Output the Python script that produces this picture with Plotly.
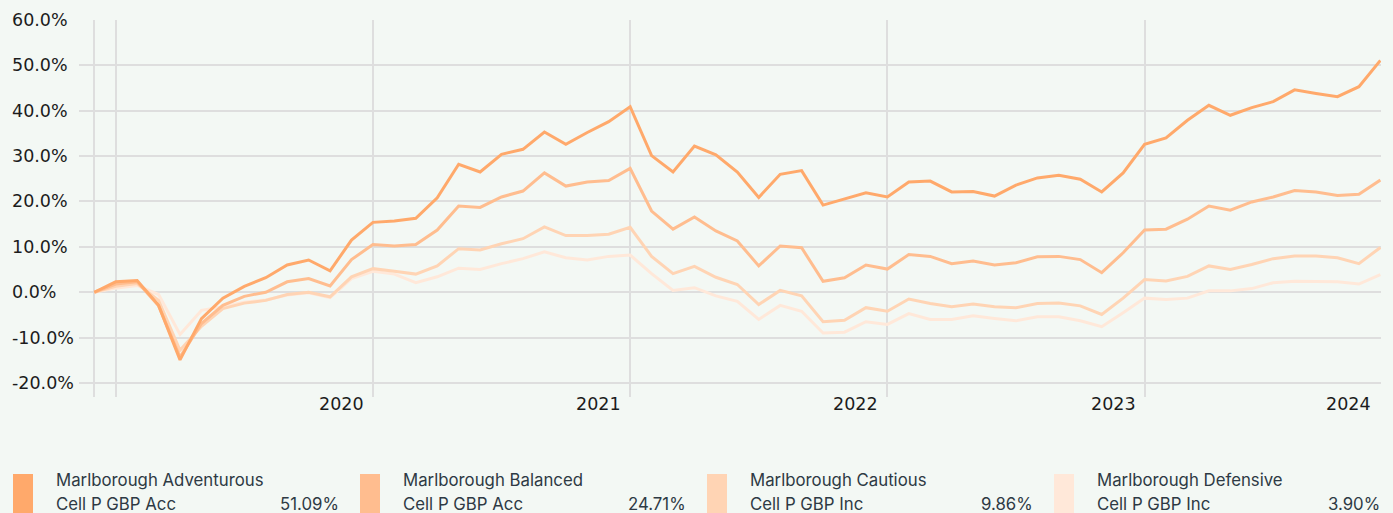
import plotly.graph_objects as go

# ---------------- data ----------------
fund_names = ["Marlborough Adventurous", "Marlborough Balanced",
              "Marlborough Cautious", "Marlborough Defensive"]
share_classes = ["Cell P GBP Acc", "Cell P GBP Acc", "Cell P GBP Inc", "Cell P GBP Inc"]
total_returns = ["51.09%", "24.71%", "9.86%", "3.90%"]

adventurous = [0.0, 2.3, 2.6, -2.9, -14.9, -5.8, -1.3, 1.3, 3.2, 6.0,
               7.1, 4.7, 11.5, 15.4, 15.7, 16.3, 20.8, 28.2, 26.5, 30.4,
               31.5, 35.3, 32.6, 35.2, 37.6, 40.9, 30.1, 26.5, 32.2, 30.3,
               26.5, 20.9, 26.0, 26.8, 19.2, 20.5, 21.9, 21.0, 24.3, 24.5,
               22.1, 22.2, 21.2, 23.6, 25.2, 25.8, 24.9, 22.1, 26.3, 32.6,
               34.0, 37.9, 41.2, 39.0, 40.7, 42.0, 44.6, 43.8, 43.1, 45.3,
               51.09]
balanced = [0.0, 1.8, 2.3, -3.0, -14.3, -6.9, -2.9, -0.9, 0.0, 2.3,
            3.0, 1.4, 7.2, 10.5, 10.2, 10.5, 13.7, 19.0, 18.7, 21.0,
            22.3, 26.3, 23.4, 24.3, 24.6, 27.3, 17.9, 13.9, 16.6, 13.5,
            11.3, 5.8, 10.2, 9.8, 2.4, 3.2, 6.0, 5.1, 8.3, 7.9,
            6.3, 6.9, 6.0, 6.5, 7.8, 7.9, 7.2, 4.3, 8.7, 13.7,
            13.9, 16.1, 19.0, 18.1, 19.9, 21.0, 22.4, 22.1, 21.3, 21.6,
            24.71]
cautious = [0.0, 1.3, 1.9, -1.8, -12.8, -7.5, -3.6, -2.4, -1.8, -0.5,
            0.0, -1.0, 3.4, 5.2, 4.6, 4.0, 5.8, 9.6, 9.3, 10.7,
            11.8, 14.4, 12.5, 12.5, 12.8, 14.3, 7.9, 4.1, 5.7, 3.3,
            1.7, -2.7, 0.4, -0.8, -6.5, -6.2, -3.4, -4.2, -1.5, -2.5,
            -3.2, -2.6, -3.2, -3.4, -2.5, -2.4, -3.0, -4.9, -1.3, 2.8,
            2.5, 3.5, 5.8, 5.0, 6.1, 7.4, 8.0, 8.0, 7.6, 6.3,
            9.86]
defensive = [0.0, 0.9, 1.5, -0.5, -9.3, -4.0, -3.2, -2.2, -1.7, -0.6,
             -0.1, -1.2, 3.0, 4.6, 4.0, 2.1, 3.4, 5.3, 5.0, 6.3,
             7.4, 8.9, 7.6, 7.1, 7.9, 8.2, 4.1, 0.4, 1.0, -0.8,
             -2.0, -6.0, -2.9, -4.2, -9.0, -8.8, -6.5, -7.1, -4.7, -6.0,
             -6.0, -5.2, -5.8, -6.3, -5.4, -5.4, -6.3, -7.6, -4.5, -1.3,
             -1.6, -1.3, 0.3, 0.3, 0.8, 2.1, 2.4, 2.4, 2.3, 1.8,
             3.90]

month_index = list(range(len(adventurous)))
x_tick_vals = [0, 1, 13, 25, 37, 49, 60]
x_tick_text = ["", "", "2020", "2021", "2022", "2023", "2024"]
y_tick_vals = [60, 50, 40, 30, 20, 10, 0, -10, -20]
y_tick_text = ["60.0%", "50.0%", "40.0%", "30.0%", "20.0%", "10.0%", "0.0%", "-10.0%", "-20.0%"]

series = [adventurous, balanced, cautious, defensive]
colors = ["#FFA96B", "#FFBD8F", "#FFD4B4", "#FFE8D9"]

# ---------------- layout geometry ----------------
W, H = 1393, 513
ML, MR, MT, MB = 79, 12, 20, 116
PW, PH = W - ML - MR, H - MT - MB
BG = "#F3F8F4"
GRID = "#DEDEDE"


def px_x(p):
    return (p - ML) / PW


def px_y(p):
    return (MT + PH - p) / PH


fig = go.Figure()
for vals, name, col in reversed(list(zip(series, fund_names, colors))):
    fig.add_trace(go.Scatter(
        x=month_index, y=vals, mode="lines", name=name,
        line=dict(color=col, width=3), showlegend=False,
        hovertemplate="%{y:.2f}%<extra>" + name + "</extra>"))

annotations = []
tick_font = dict(family="DejaVu Sans", size=17.5, color="#1c1c1c")
for v, t in zip(y_tick_vals, y_tick_text):
    annotations.append(dict(x=px_x(10), xref="paper", y=v, yref="y", text=t,
                            showarrow=False, xanchor="left", yanchor="middle",
                            font=tick_font))
for v, t in zip(x_tick_vals, x_tick_text):
    if t:
        annotations.append(dict(x=v, xref="x", y=px_y(404), yref="paper", text=t,
                                showarrow=False, xanchor="right", yanchor="middle",
                                xshift=-7, font=tick_font))

shapes = []
legend_font = dict(family="Inter", size=16.8, color="#2E3A44")
col_w = 347
for i, (name, sc, ret, col) in enumerate(zip(fund_names, share_classes, total_returns, colors)):
    x0 = 13 + i * col_w
    shapes.append(dict(type="rect", xref="paper", yref="paper",
                       x0=px_x(x0), x1=px_x(x0 + 20), y0=px_y(474), y1=px_y(530),
                       fillcolor=col, line=dict(width=0), layer="above"))
    annotations.append(dict(x=px_x(x0 + 41), xref="paper", y=px_y(480), yref="paper",
                            text=name, showarrow=False, xanchor="left", yanchor="middle",
                            font=legend_font))
    annotations.append(dict(x=px_x(x0 + 41), xref="paper", y=px_y(504), yref="paper",
                            text=sc, showarrow=False, xanchor="left", yanchor="middle",
                            font=legend_font))
    annotations.append(dict(x=px_x(x0 + 328), xref="paper", y=px_y(504), yref="paper",
                            text=ret, showarrow=False, xanchor="right", yanchor="middle",
                            font=legend_font))

fig.update_layout(
    width=W, height=H,
    margin=dict(l=ML, r=MR, t=MT, b=MB, pad=0),
    paper_bgcolor=BG, plot_bgcolor=BG,
    showlegend=False,
    annotations=annotations,
    shapes=shapes,
    xaxis=dict(range=[-0.713, 60.03], tickmode="array", tickvals=x_tick_vals,
               showticklabels=False, showgrid=True, gridcolor=GRID, gridwidth=2,
               zeroline=False, showline=False, ticks="", fixedrange=True),
    yaxis=dict(range=[-23.09, 60], tickmode="array", tickvals=y_tick_vals,
               showticklabels=False, showgrid=True, gridcolor=GRID, gridwidth=2,
               zeroline=False, showline=False, ticks="", fixedrange=True),
)

fig.write_html("out.html", config={"displayModeBar": False},
               post_script="document.body.style.margin='0';document.body.style.background='" + BG + "';")
